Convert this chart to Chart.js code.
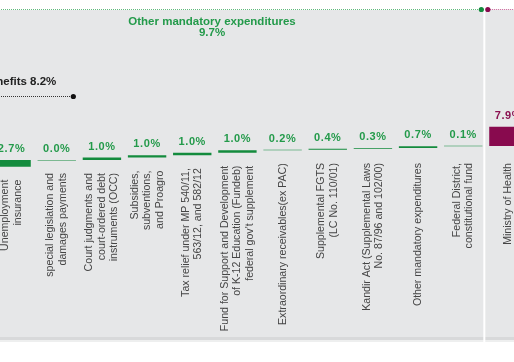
<!DOCTYPE html>
<html>
<head>
<meta charset="utf-8">
<script src="https://cdn.jsdelivr.net/npm/chart.js@4.4.1/dist/chart.umd.min.js"></script>
<style>
  html,
  body {
    margin: 0;
    padding: 0;
    background: #fff;
    width: 514px;
    height: 362px;
    overflow: hidden;
  }
  #wrap {
    position: absolute;
    left: -11px;
    top: 0;
  }
</style>
</head>
<body>
<div id="wrap"><canvas id="myChart" width="542" height="362"></canvas></div>
<script>
//類別標籤
const categories = [
  ["Unemployment", "insurance"],
  ["special legislation and", "damages payments"],
  ["Court judgments and", "court-ordered debt", "instruments (OCC)"],
  ["Subsidies,", "subventions,", "and Proagro"],
  ["Tax relief under MP 540/11,", "563/12, and 582/12"],
  ["Fund for Support and Development", "of K-12 Education (Fundeb)", "federal gov't supplement"],
  ["Extraordinary receivables(ex PAC)"],
  ["Supplemental FGTS", "(LC No. 110/01)"],
  ["Kandir Act (Supplemental Laws", "No. 87/96 and 102/00)"],
  ["Other mandatory expenditures"],
  ["Federal District,", "constitutional fund"],
  ["Ministry of Health"],
];

//各項佔比 (%)
const shares = [2.7, 0.0, 1.0, 1.0, 1.0, 1.0, 0.2, 0.4, 0.3, 0.7, 0.1, 7.9];
const groups = ["mandatory", "mandatory", "mandatory", "mandatory", "mandatory", "mandatory",
  "mandatory", "mandatory", "mandatory", "mandatory", "mandatory", "health"];

//群組標題
const mandatoryTitle = ["Other mandatory expenditures", "9.7%"];
const benefitsTitle = "Social security benefits 8.2%";

const colors = {
  mandatory: { bar: "#138b3d", text: "#239a4a" },
  health: { bar: "#880a4e", text: "#8a1050" },
};

//瀑布圖: 每項從上一項結束處開始
function waterfall(values) {
  let total = 0;
  let result = [];
  for (let v of values) {
    result.push([total, total + v]);
    total += v;
  }
  return result;
}
const ranges = waterfall(shares);

function dotted(ctx, x1, x2, y, color) {
  ctx.save();
  ctx.strokeStyle = color;
  ctx.lineWidth = 1;
  ctx.setLineDash([1, 1]);
  ctx.beginPath();
  ctx.moveTo(x1, y);
  ctx.lineTo(x2, y);
  ctx.stroke();
  ctx.restore();
}

function dot(ctx, x, y, color) {
  ctx.fillStyle = color;
  ctx.beginPath();
  ctx.arc(x, y, 2.6, 0, Math.PI * 2);
  ctx.fill();
}

const panelPlugin = {
  id: "panel",
  beforeDraw(chart) {
    const ctx = chart.ctx;
    const x = chart.scales.x;
    const w = chart.width;
    const sep = (x.getPixelForValue(10) + x.getPixelForValue(11)) / 2 - 1.5;
    ctx.save();
    ctx.fillStyle = "#e6e7e8";
    ctx.fillRect(0, 10, w, 327);
    ctx.fillStyle = "#d8d9da";
    ctx.fillRect(0, 337, w, 3);
    ctx.fillStyle = "#eeefef";
    ctx.fillRect(0, 340, w, 2);
    ctx.fillStyle = "#ffffff";
    ctx.fillRect(sep - 1, 10, 2, 332);
    ctx.restore();
  },
  afterDatasetsDraw(chart) {
    const ctx = chart.ctx;
    const x = chart.scales.x;
    const y = chart.scales.y;
    const w = chart.width;
    const sep = (x.getPixelForValue(10) + x.getPixelForValue(11)) / 2 - 1.5;

    //上方群組線
    dotted(ctx, 0, sep - 3, 9.5, "#62bb7e");
    dot(ctx, sep - 3, 9.5, colors.mandatory.bar);
    dotted(ctx, sep + 3.5, w, 9.5, "#c45c92");
    dot(ctx, sep + 3.5, 9.5, colors.health.bar);

    ctx.save();
    ctx.font = "bold 11.5px 'Liberation Sans', Arial, sans-serif";
    ctx.fillStyle = colors.mandatory.text;
    ctx.textAlign = "center";
    ctx.textBaseline = "middle";
    ctx.fillText(mandatoryTitle[0], 223, 22);
    ctx.fillText(mandatoryTitle[1], 223, 33);

    //左側 benefits 線
    const bx = (x.getPixelForValue(1) + x.getPixelForValue(2)) / 2 - 6;
    dotted(ctx, 0, bx, 96.5, "#333333");
    dot(ctx, bx, 96.5, "#111111");
    ctx.fillStyle = "#222222";
    ctx.textAlign = "right";
    ctx.fillText(benefitsTitle, bx - 17, 81.5);

    //數值標籤
    ctx.font = "bold 11px 'Liberation Sans', Arial, sans-serif";
    ctx.letterSpacing = "0.6px";
    ctx.textAlign = "center";
    shares.forEach((v, i) => {
      const top = y.getPixelForValue(ranges[i][1]);
      ctx.fillStyle = colors[groups[i]].text;
      ctx.fillText(v.toFixed(1) + "%", x.getPixelForValue(i), top - 11);
    });

    //類別標籤 (旋轉)
    ctx.letterSpacing = "0px";
    ctx.font = "10.6px 'Liberation Sans', Arial, sans-serif";
    ctx.fillStyle = "#454545";
    categories.forEach((lines, i) => {
      const base = y.getPixelForValue(ranges[i][0]);
      const top = Math.max(163, base + 13);
      const cx = x.getPixelForValue(i);
      lines.forEach((line, j) => {
        const off = (j - (lines.length - 1) / 2) * 12.5;
        ctx.save();
        ctx.translate(cx + off, top);
        ctx.rotate(-Math.PI / 2);
        ctx.textAlign = "right";
        ctx.textBaseline = "middle";
        ctx.fillText(line, 0, 0);
        ctx.restore();
      });
    });
    ctx.restore();
  },
};

const ctx = document.getElementById("myChart");
const myChart = new Chart(ctx, {
  type: "bar",
  data: {
    labels: categories,
    datasets: [
      {
        data: ranges,
        backgroundColor: groups.map((g) => colors[g].bar),
        borderWidth: 0,
        barPercentage: 0.85,
        categoryPercentage: 1,
        minBarLength: 0.5,
      },
    ],
  },
  options: {
    responsive: false,
    animation: false,
    devicePixelRatio: 1,
    layout: { padding: 0 },
    plugins: {
      legend: { display: false },
      tooltip: { enabled: false },
    },
    scales: {
      x: { display: false },
      y: { display: false, min: -79.7, max: 68 },
    },
  },
  plugins: [panelPlugin],
});
</script>
</body>
</html>
